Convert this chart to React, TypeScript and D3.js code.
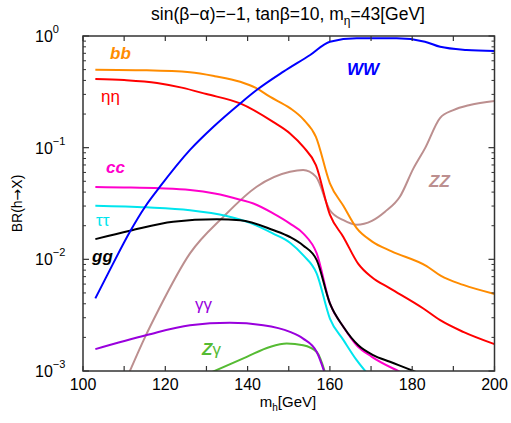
import React from "react";
import * as d3 from "d3";

if (typeof document !== "undefined") document.body.style.margin = "0";

const bbMass = [103, 115, 126, 132, 138.2, 142, 145.4, 150.3, 153.5, 156.6, 160, 163.3, 166.5, 170.2, 175, 183.5, 187, 192.4, 200];
const bbBR = [0.499, 0.493, 0.473, 0.437, 0.389, 0.343, 0.286, 0.226, 0.18, 0.125, 0.048, 0.03, 0.019, 0.0145, 0.0118, 0.0087, 0.0071, 0.0059, 0.0049];

const etaMass = [103, 110, 118, 124, 130, 138.2, 146.2, 150.3, 153.5, 156.6, 160, 163.3, 166.9, 170.2, 174.6, 182.7, 186.8, 192.4, 200];
const etaBR = [0.412, 0.403, 0.38, 0.345, 0.302, 0.249, 0.17, 0.134, 0.102, 0.0698, 0.0251, 0.0158, 0.0091, 0.0069, 0.0055, 0.00363, 0.00285, 0.00224, 0.00174];

const wwMass = [103, 107, 111.4, 115.1, 118.7, 126, 131.7, 138.2, 142.2, 148.7, 155.2, 160, 166.5, 176.2, 183.1, 186.8, 193.2, 200];
const wwBR = [0.00447, 0.0087, 0.01766, 0.0296, 0.0447, 0.0955, 0.154, 0.249, 0.328, 0.479, 0.676, 0.889, 0.953, 0.953, 0.889, 0.8, 0.75, 0.734];

const ccMass = [103, 110, 118.7, 126, 132, 138.2, 141.4, 146.2, 150.3, 153.5, 156.8, 160, 163.3, 166.5, 170.2, 176.6, 180];
const ccBR = [0.0444, 0.044, 0.0432, 0.0417, 0.0388, 0.0342, 0.0316, 0.0258, 0.0209, 0.0171, 0.0113, 0.00403, 0.00248, 0.0017, 0.00134, 0.001, 0.00087];

const tauMass = [103, 115.5, 126, 134.9, 140.6, 146.2, 150.3, 153.5, 156.8, 160, 163.3, 166.5, 170];
const tauBR = [0.0302, 0.0292, 0.0275, 0.0244, 0.0212, 0.0170, 0.0141, 0.0109, 0.00746, 0.00295, 0.00189, 0.00125, 0.00087];

const ggMass = [103, 111.4, 121.9, 132.5, 138.2, 146.2, 150.3, 153.5, 156.8, 160, 163.3, 166.9, 170.5, 174.6, 180.3, 183];
const ggBR = [0.01517, 0.018, 0.0217, 0.0228, 0.0224, 0.0183, 0.01585, 0.0133, 0.00984, 0.00403, 0.00248, 0.0017, 0.00139, 0.00121, 0.001, 0.00091];

const gamMass = [103, 115.5, 126, 135.7, 143.8, 150.3, 153.5, 156.8, 160];
const gamBR = [0.00157, 0.0021, 0.00257, 0.0027, 0.00257, 0.00224, 0.00195, 0.00148, 0.000676];

const zgMass = [130, 139.8, 145.4, 149.5, 153.5, 156.8, 160];
const zgBR = [0.00093, 0.00134, 0.00164, 0.00176, 0.0017, 0.00148, 0.000676];

const zzMass = [110, 111.4, 115.1, 118.3, 126, 134.1, 142.2, 150.3, 153.5, 156.6, 160, 163.3, 166.5, 170.2, 173.4, 177, 180.3, 183.1, 186.8, 190, 194, 200];
const zzBR = [0.00076, 0.001, 0.00202, 0.0035, 0.0113, 0.024, 0.0447, 0.0608, 0.063, 0.055, 0.0275, 0.0224, 0.0204, 0.0221, 0.0267, 0.0363, 0.0652, 0.0986, 0.185, 0.217, 0.241, 0.262];

const xTickValues = [100, 110, 120, 130, 140, 150, 160, 170, 180, 190, 200];
const xTickLabels = ["100", "120", "140", "160", "180", "200"];
const yDecades = [1e-3, 1e-2, 1e-1, 1];
const yDecadeExponents = ["\u22123", "\u22122", "\u22121", "0"];

const W = 511, H = 423;
const L = 83, R = 494.5, T = 36, B = 371;

const x = d3.scaleLinear().domain([100, 200]).range([L, R]);
const y = d3.scaleLog().domain([1e-3, 1]).range([B, T]);

const series = [
  { m: zzMass, v: zzBR, color: "#bc8f8f" },
  { m: zgMass, v: zgBR, color: "#55bb33" },
  { m: gamMass, v: gamBR, color: "#9900dd" },
  { m: tauMass, v: tauBR, color: "#00e5ee" },
  { m: ccMass, v: ccBR, color: "#ff00cc" },
  { m: ggMass, v: ggBR, color: "#000000" },
  { m: etaMass, v: etaBR, color: "#ff0000" },
  { m: bbMass, v: bbBR, color: "#ff8c00" },
  { m: wwMass, v: wwBR, color: "#0000ff" },
];

const line = d3
  .line<[number, number]>()
  .x((d) => x(d[0]))
  .y((d) => y(d[1]))
  .curve(d3.curveMonotoneX);

const font = "Arial, 'Liberation Sans', Helvetica, sans-serif";

export default function App() {
  const minorY: number[] = [];
  for (let e = -3; e < 0; e++) for (let k = 2; k <= 9; k++) minorY.push(k * Math.pow(10, e));
  const axisColor = "#333";
  return (
    <svg width={W} height={H} style={{ display: "block", background: "#fff" }} fontFamily={font}>
      <defs>
        <clipPath id="plotclip">
          <rect x={L} y={T} width={R - L} height={B - T} />
        </clipPath>
      </defs>
      <text x={288} y={20} textAnchor="middle" fontSize={17.5}>
        sin(β−α)=−1, tanβ=10, m
        <tspan fontSize={12} dy={5}>η</tspan>
        <tspan dy={-5}>=43[GeV]</tspan>
      </text>
      <g clipPath="url(#plotclip)">
        {series.map((s, i) => (
          <path
            key={i}
            d={line(s.m.map((mm, j) => [mm, s.v[j]] as [number, number])) || ""}
            fill="none"
            stroke={s.color}
            strokeWidth={2}
            strokeLinejoin="round"
          />
        ))}
      </g>
      <rect x={L} y={T} width={R - L} height={B - T} fill="none" stroke={axisColor} strokeWidth={1.5} />
      {xTickValues.map((t) => (
        <g key={t} stroke={axisColor} strokeWidth={1.2}>
          <line x1={x(t)} x2={x(t)} y1={B} y2={B - 5} />
          <line x1={x(t)} x2={x(t)} y1={T} y2={T + 5} />
        </g>
      ))}
      {xTickLabels.map((t) => (
        <text key={t} x={x(+t)} y={390} textAnchor="middle" fontSize={16}>
          {t}
        </text>
      ))}
      {yDecades.map((t) => (
        <g key={t} stroke={axisColor} strokeWidth={1.2}>
          <line x1={L} x2={L + 6} y1={y(t)} y2={y(t)} />
          <line x1={R} x2={R - 6} y1={y(t)} y2={y(t)} />
        </g>
      ))}
      {minorY.map((t) => (
        <g key={t} stroke={axisColor} strokeWidth={1}>
          <line x1={L} x2={L + 3} y1={y(t)} y2={y(t)} />
          <line x1={R} x2={R - 3} y1={y(t)} y2={y(t)} />
        </g>
      ))}
      {yDecades.map((t, i) => (
        <text key={t} x={35} y={y(t) + 6} fontSize={16}>
          10
          <tspan fontSize={11} dy={-9}>{yDecadeExponents[i]}</tspan>
        </text>
      ))}
      <text transform={`translate(22,${(T + B) / 2}) rotate(-90)`} textAnchor="middle" fontSize={14}>
        BR(h<tspan fontFamily="'DejaVu Sans'">→</tspan>X)
      </text>
      <text x={288} y={407} textAnchor="middle" fontSize={15}>
        m<tspan fontSize={10} dy={4}>h</tspan>
        <tspan dy={-4}>[GeV]</tspan>
      </text>
      <g fontSize={17}>
        <text x={110} y={59} fill="#ff8c00" fontWeight="bold" fontStyle="italic">bb</text>
        <text x={101} y={102} fill="#ff0000">ηη</text>
        <text x={347} y={75} fill="#0000ff" fontWeight="bold" fontStyle="italic">WW</text>
        <text x={106} y={173} fill="#ff00cc" fontWeight="bold" fontStyle="italic">cc</text>
        <text x={96} y={226} fill="#00e5ee">ττ</text>
        <text x={92} y={262} fill="#000" fontWeight="bold" fontStyle="italic">gg</text>
        <text x={195} y={310} fill="#9900dd">γγ</text>
        <text x={202} y={355} fill="#55bb33">
          <tspan fontWeight="bold" fontStyle="italic">Z</tspan>γ
        </text>
        <text x={429} y={187} fill="#bc8f8f" fontWeight="bold" fontStyle="italic">ZZ</text>
      </g>
    </svg>
  );
}
